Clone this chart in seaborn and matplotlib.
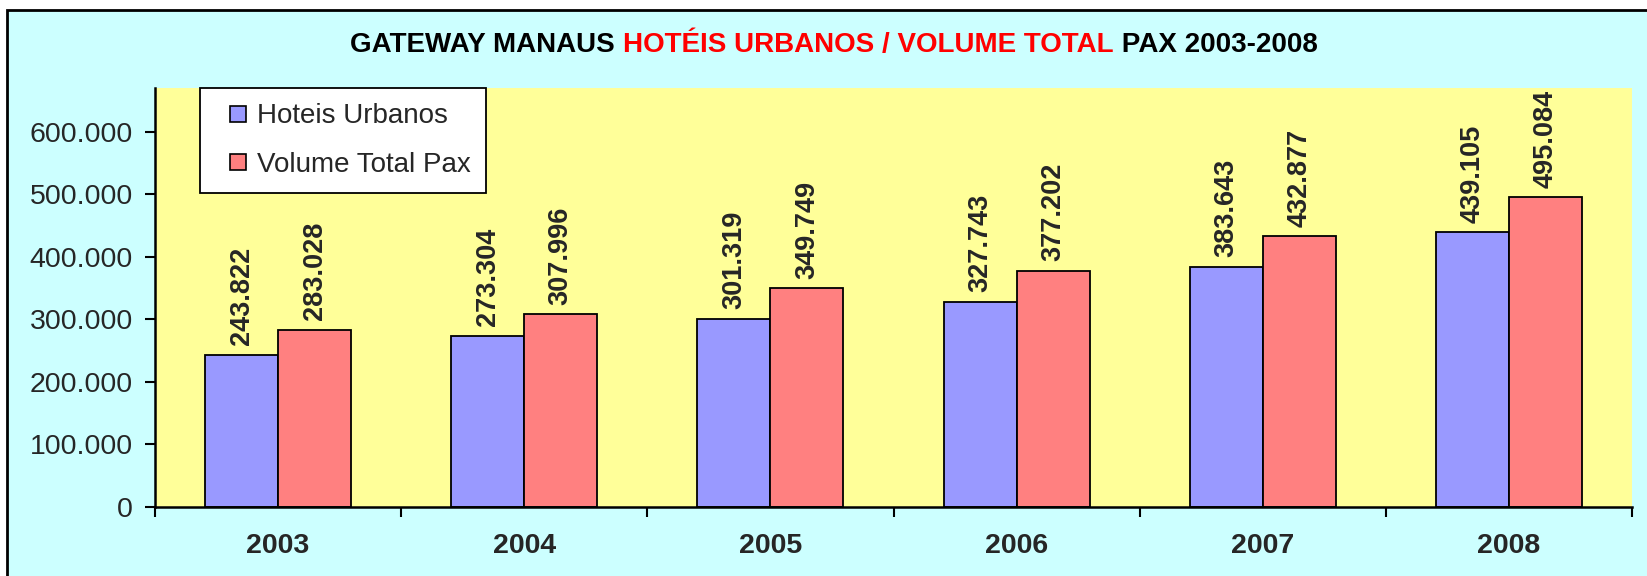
import matplotlib
matplotlib.use('Agg')
import matplotlib.pyplot as plt
import matplotlib.ticker as mticker
from matplotlib.patches import Rectangle
from matplotlib.lines import Line2D
import seaborn as sns
import pandas as pd

# data
years = ['2003', '2004', '2005', '2006', '2007', '2008']
hoteis = [243822, 273304, 301319, 327743, 383643, 439105]
volume = [283028, 307996, 349749, 377202, 432877, 495084]
series = ['Hoteis Urbanos', 'Volume Total Pax']
colors = ['#9999FF', '#FF8080']

df = pd.DataFrame({
    'ano': years * 2,
    'valor': hoteis + volume,
    'serie': [series[0]] * len(years) + [series[1]] * len(years),
})

sns.set_style('white')
plt.rcParams['font.family'] = ['Liberation Sans', 'DejaVu Sans']

fig = plt.figure(figsize=(16.47, 5.76), dpi=100)
fig.patch.set_facecolor('white')
# cyan chart area with black border
fig.patches.append(Rectangle((7 / 1647, -0.05), 1.05, 1 - 10 / 576 + 0.05,
                             transform=fig.transFigure, facecolor='#CCFFFF',
                             edgecolor='black', linewidth=2, zorder=-10))

ax = fig.add_axes([155 / 1647, 1 - 507 / 576, (1632 - 155) / 1647, (507 - 88) / 576])
ax.set_facecolor('#FFFF99')

sns.barplot(data=df, x='ano', y='valor', hue='serie', palette=colors,
            width=0.593, edgecolor='black', linewidth=1.3, ax=ax,
            saturation=1, errorbar=None)

ax.set_ylim(0, 670000)
ax.set_xlim(-0.5, 5.5)
ax.set_xlabel('')
ax.set_ylabel('')

fmt = lambda v, p: '0' if v == 0 else f'{int(v):,}'.replace(',', '.')
ax.yaxis.set_major_locator(mticker.MultipleLocator(100000))
ax.yaxis.set_major_formatter(mticker.FuncFormatter(fmt))
ax.tick_params(axis='y', labelsize=20.5, length=7, width=1.5, pad=9, left=True,
               direction='out', color='black')
ax.xaxis.set_minor_locator(mticker.FixedLocator([i - 0.5 for i in range(len(years) + 1)]))
ax.tick_params(axis='x', which='major', length=0, pad=19, labelsize=20.5)
ax.tick_params(axis='x', which='minor', length=7, width=1.5, bottom=True,
               direction='out', color='black')
for lab in ax.get_xticklabels():
    lab.set_fontweight('bold')

for s in ['top', 'right']:
    ax.spines[s].set_visible(False)
for s in ['left', 'bottom']:
    ax.spines[s].set_color('black')
    ax.spines[s].set_linewidth(1.8)

for cont, vals in zip(ax.containers, [hoteis, volume]):
    ax.bar_label(cont, labels=[f'{v:,}'.replace(',', '.') for v in vals],
                 rotation=90, padding=7, fontsize=19.5, fontweight='bold')

# legend with small squares
if ax.get_legend() is not None:
    ax.get_legend().remove()
handles = [Line2D([], [], linestyle='none', marker='s', markersize=11.5,
                  markerfacecolor=c, markeredgecolor='black', markeredgewidth=1.2)
           for c in colors]
leg = ax.legend(handles, series, loc='upper left',
                bbox_to_anchor=(0.0305, 1.0), borderaxespad=0, fontsize=20,
                frameon=True, fancybox=False, edgecolor='black', framealpha=1,
                handlelength=1.6, handletextpad=-0.1,
                labelspacing=0.8, borderpad=0.55)
leg.get_frame().set_linewidth(1.3)

# multicolour title
parts = [('GATEWAY MANAUS ', 'black'), ('HOTÉIS URBANOS / VOLUME TOTAL', '#FF0000'),
         (' PAX 2003-2008', 'black')]
texts = [fig.text(0, 1 - 45 / 576, t, color=c, fontsize=20, fontweight='bold',
                  va='center', ha='left') for t, c in parts]
fig.canvas.draw()
r = fig.canvas.get_renderer()
widths = [t.get_window_extent(r).width for t in texts]
x = 834 - sum(widths) / 2
for t, w in zip(texts, widths):
    t.set_x(x / 1647)
    x += w

fig.savefig('out.png', dpi=100, facecolor=fig.get_facecolor())
